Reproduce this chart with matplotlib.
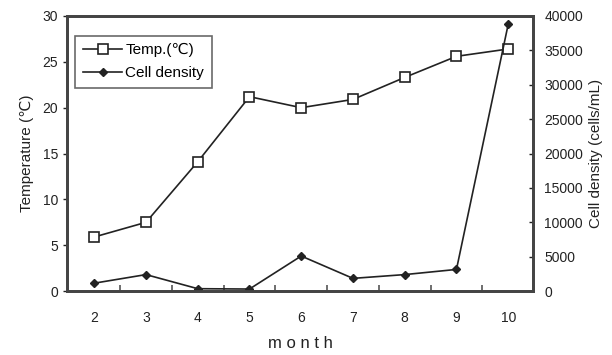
import matplotlib.pyplot as plt

plt.rcParams['font.family'] = ['Liberation Sans', 'DejaVu Sans']

months = [2, 3, 4, 5, 6, 7, 8, 9, 10]
temp = [5.9, 7.5, 14.1, 21.2, 20.0, 20.9, 23.3, 25.6, 26.4]
cells = [1150, 2400, 350, 300, 5100, 1850, 2400, 3150, 38800]

ink = '#222222'
fig, ax = plt.subplots(figsize=(6.12, 3.55), dpi=100)
fig.subplots_adjust(left=0.11, right=0.871, top=0.955, bottom=0.18)
ax2 = ax.twinx()

l1, = ax.plot(months, temp, '-s', color=ink, mfc='white', mec=ink, ms=6.5, mew=1.2, lw=1.2, label='Temp.(℃)')
l2, = ax2.plot(months, cells, '-D', color=ink, ms=4, lw=1.2, label='Cell density')

ax.set_xlim(1.48, 10.48)
ax.set_ylim(0, 30)
ax2.set_ylim(0, 40000)
ax.set_xticks(months)
ax.set_xticks([m + 0.5 for m in months[:-1]], minor=True)
ax.tick_params(axis='x', which='major', length=0, pad=14, labelsize=10, colors=ink)
ax.tick_params(axis='x', which='minor', direction='in', length=4, width=1.2, color='#555555')
ax.set_yticks(range(0, 31, 5))
ax.tick_params(axis='y', direction='out', length=3, width=1, labelsize=10, colors=ink)
ax2.set_yticks(range(0, 40001, 5000))
ax2.tick_params(axis='y', direction='in', length=3, width=1, labelsize=10, colors=ink, pad=8)

for a in (ax, ax2):
    for s in a.spines.values():
        s.set_linewidth(2)
        s.set_color('#444444')

ax.set_xlabel('m o n t h', fontsize=12, color=ink, labelpad=8)
ax.set_ylabel('Temperature (℃)', fontsize=11, color=ink, labelpad=6)
ax2.set_ylabel('Cell density (cells/mL)', fontsize=11, color=ink, labelpad=4)

leg = ax.legend(handles=[l1, l2], loc='upper left', bbox_to_anchor=(0.01, 0.94),
                fontsize=11, frameon=True, fancybox=False, handlelength=2.6,
                borderpad=0.5, labelspacing=0.6, handletextpad=0.2, borderaxespad=0.2)
leg.get_frame().set_edgecolor('#444444')
leg.get_frame().set_linewidth(1.2)

fig.savefig('out.png', dpi=100)
